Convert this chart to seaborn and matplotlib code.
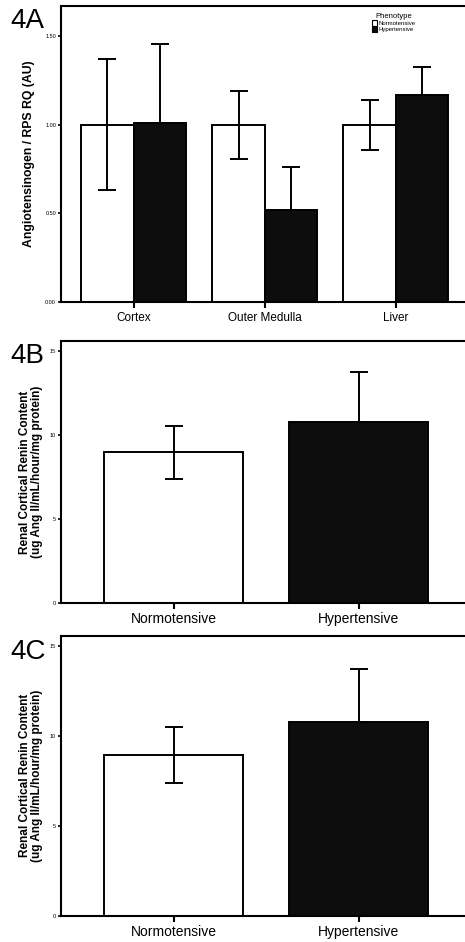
import pandas as pd
import matplotlib
matplotlib.use('Agg')
import matplotlib.pyplot as plt
import seaborn as sns

sns.set_style('ticks')
plt.rcParams['font.family'] = ['Liberation Sans', 'DejaVu Sans']
for k in ['text.color', 'axes.labelcolor', 'xtick.color', 'ytick.color']:
    plt.rcParams[k] = 'black'

# --- data ---
tissues = ['Cortex', 'Outer Medulla', 'Liver']
phenotypes = ['Normotensive', 'Hypertensive']
agt_normo = [1.00, 1.00, 1.00]
agt_normo_err = [0.37, 0.19, 0.14]
agt_hyper = [1.01, 0.52, 1.17]
agt_hyper_err = [0.45, 0.24, 0.16]

groups = ['Normotensive', 'Hypertensive']
renin_b = [8.98, 10.80]
renin_b_err = [1.56, 2.96]
renin_c = [8.98, 10.80]
renin_c_err = [1.56, 2.96]

colors = ['white', '#0d0d0d']

fig = plt.figure(figsize=(4.65, 9.42), dpi=100)


def style_axes(ax):
    for s in ax.spines.values():
        s.set_linewidth(1.5)
        s.set_color('black')
    ax.tick_params(axis='y', length=2.5, width=1.2, labelsize=4, pad=1)
    ax.tick_params(axis='x', length=4.5, width=1.5, pad=2)
    ax.set_xlabel('')


def add_errorbars(ax, means, errs, dark):
    bars = [p for p in ax.patches if p.get_height() > 0]
    bars = sorted(bars, key=lambda p: p.get_x())
    for p, m, e, d in zip(bars, means, errs, dark):
        cx = p.get_x() + p.get_width() / 2
        # lower half of the bar on a black bar is hidden by the bar
        yerr = [[0], [e]] if d else e
        ax.errorbar(cx, m, yerr=yerr, fmt='none', ecolor='black',
                    elinewidth=1.4, capsize=6.5, capthick=1.4, zorder=5)


# --- 4A --- (right edge runs off the figure, as in the original scan)
ax1 = fig.add_axes([0.131, 0.6794, 0.875, 0.3142])
df_a = pd.DataFrame({
    'Tissue': tissues * 2,
    'Phenotype': [phenotypes[0]] * 3 + [phenotypes[1]] * 3,
    'value': agt_normo + agt_hyper,
})
sns.barplot(data=df_a, x='Tissue', y='value', hue='Phenotype',
            hue_order=phenotypes, order=tissues, palette=colors,
            edgecolor='black', linewidth=1.4, width=0.8, errorbar=None,
            saturation=1, ax=ax1)
means_a, errs_a = [], []
for i in range(3):
    means_a += [agt_normo[i], agt_hyper[i]]
    errs_a += [agt_normo_err[i], agt_hyper_err[i]]
add_errorbars(ax1, means_a, errs_a, [False, True] * 3)
ax1.set_ylim(0, 1.672)
ax1.set_xlim(-0.555, 2.549)
ax1.set_yticks([0, 0.5, 1.0, 1.5])
ax1.set_yticklabels(['0.00', '0.50', '1.00', '1.50'])
ax1.set_ylabel('Angiotensinogen / RPS RQ (AU)', fontsize=8.8, fontweight='bold',
               labelpad=7)
style_axes(ax1)
ax1.tick_params(axis='x', labelsize=8.5, pad=3)
ax1.legend_.remove()
handles = [plt.Rectangle((0, 0), 1, 1, facecolor=c, edgecolor='black', linewidth=0.8)
           for c in colors]
fig.legend(handles, phenotypes, title='Phenotype', loc='upper left',
           bbox_to_anchor=(372 / 465, 1 - 13 / 942), frameon=False,
           fontsize=4.3, title_fontsize=5.5, handlelength=0.9, handleheight=1.0,
           handletextpad=0.2, labelspacing=0.05, borderpad=0, borderaxespad=0)
fig.text(10 / 465, 1 - 28 / 942, '4A', fontsize=20)

# --- 4B and 4C ---
panels = [
    ('4B', [0.131, 0.3595, 0.875, 0.2785], renin_b, renin_b_err, 363),
    ('4C', [0.131, 0.0276, 0.875, 0.2976], renin_c, renin_c_err, 659),
]
for tag, rect, vals, errs, base in panels:
    ax = fig.add_axes(rect)
    df = pd.DataFrame({'Group': groups, 'value': vals})
    sns.barplot(data=df, x='Group', y='value', hue='Group', order=groups,
                hue_order=groups, palette=colors, edgecolor='black',
                linewidth=1.4, width=0.75, errorbar=None, saturation=1,
                legend=False, ax=ax)
    add_errorbars(ax, vals, errs, [False, True])
    ax.set_ylim(0, 15.6)
    ax.set_xlim(-0.61, 1.591)
    ax.set_yticks([0, 5, 10, 15])
    ax.set_ylabel('Renal Cortical Renin Content\n(ug Ang II/mL/hour/mg protein)',
                  fontsize=8.5, fontweight='bold', labelpad=5, linespacing=0.95)
    style_axes(ax)
    ax.tick_params(axis='x', labelsize=10)
    fig.text(10 / 465, 1 - base / 942, tag, fontsize=20)

fig.savefig('out.png', dpi=100)
